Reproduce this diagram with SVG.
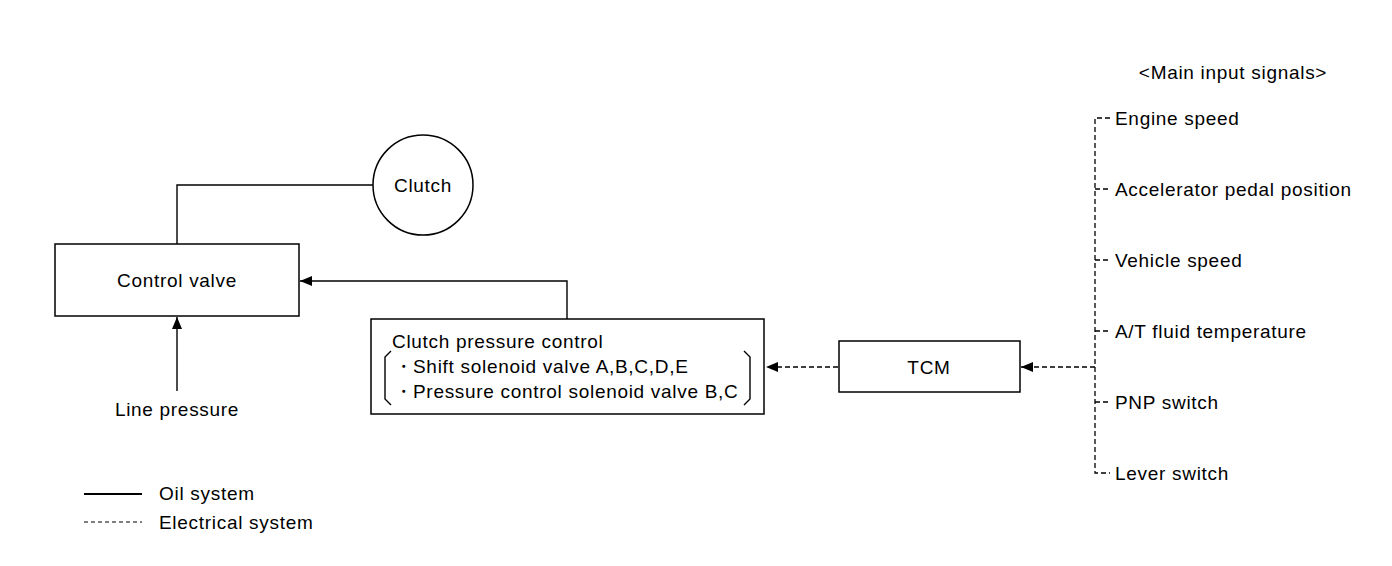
<svg xmlns="http://www.w3.org/2000/svg" width="1392" height="566" viewBox="0 0 1392 566">
<defs>
<style>
text{font-family:"Liberation Sans",Arial,sans-serif;font-size:19px;letter-spacing:0.7px;fill:#000}
.box{fill:#fff;stroke:#000;stroke-width:1.5}
.oil{fill:none;stroke:#000;stroke-width:1.4}
.el{fill:none;stroke:#000;stroke-width:1.3;stroke-dasharray:5 3}
.mid{text-anchor:middle}
</style>
<marker id="ah" markerUnits="userSpaceOnUse" markerWidth="13" markerHeight="11" refX="12" refY="5" orient="auto">
<path d="M0,0 L12,5 L0,10 Z" fill="#000"/>
</marker>
</defs>
<rect width="1392" height="566" fill="#fff"/>
<g id="connectors">
<path class="oil" d="M373,185 H177 V244"/>
<path class="oil" d="M177,391 V317" marker-end="url(#ah)"/>
<path class="oil" d="M567,319 V281 H300" marker-end="url(#ah)"/>
<path class="el" d="M838,367 H766" marker-end="url(#ah)"/>
<path class="el" d="M1095,367 H1021" marker-end="url(#ah)"/>
<path class="el" d="M1110,118 H1095 V473 H1110"/>
<path class="el" d="M1095,189 H1110 M1095,260 H1110 M1095,331 H1110 M1095,402 H1110"/>
</g>
<g id="clutch">
<circle class="box" cx="423" cy="185" r="50"/>
<text class="mid" x="423" y="192">Clutch</text>
</g>
<g id="control-valve">
<rect class="box" x="55" y="244" width="244" height="72"/>
<text class="mid" x="177" y="287">Control valve</text>
</g>
<g id="line-pressure">
<text class="mid" x="177" y="416">Line pressure</text>
</g>
<g id="clutch-pressure-control">
<rect class="box" x="371" y="319" width="393" height="95"/>
<text x="392" y="348">Clutch pressure control</text>
<text y="373"><tspan x="394">・</tspan><tspan x="413">Shift solenoid valve A,B,C,D,E</tspan></text>
<text y="398"><tspan x="394">・</tspan><tspan x="413">Pressure control solenoid valve B,C</tspan></text>
<path class="oil" d="M391,351 L385,357 V399 L391,405"/>
<path class="oil" d="M744,351 L750,357 V399 L744,405"/>
</g>
<g id="tcm">
<rect class="box" x="839" y="341" width="181" height="51"/>
<text class="mid" x="929" y="374">TCM</text>
</g>
<g id="inputs">
<text class="mid" x="1233" y="79">&lt;Main input signals&gt;</text>
<text x="1115" y="125">Engine speed</text>
<text x="1115" y="196">Accelerator pedal position</text>
<text x="1115" y="267">Vehicle speed</text>
<text x="1115" y="338">A/T fluid temperature</text>
<text x="1115" y="409">PNP switch</text>
<text x="1115" y="480">Lever switch</text>
</g>
<g id="legend">
<line x1="84" y1="494" x2="142" y2="494" stroke="#000" stroke-width="2.2"/>
<text x="159" y="500">Oil system</text>
<line x1="84" y1="522" x2="142" y2="522" stroke="#000" stroke-width="1.2" stroke-dasharray="4 3"/>
<text x="159" y="529">Electrical system</text>
</g>
</svg>
